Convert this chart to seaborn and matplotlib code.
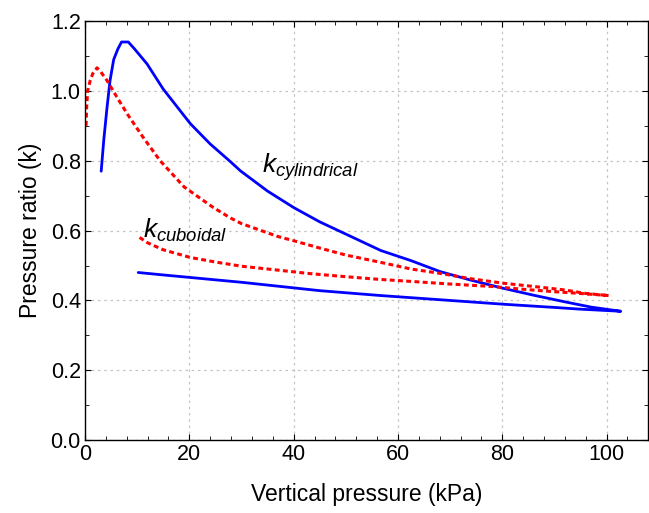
import matplotlib
matplotlib.use("Agg")
import matplotlib.pyplot as plt
import seaborn as sns
from matplotlib.ticker import MultipleLocator

# cylindrical silo, loading branch then unloading branch
cyl_load_x = [3.1, 3.6, 4.2, 4.8, 5.5, 6.3, 7.0, 8.3, 9.5, 11.9, 15.0, 20.2, 24.0, 27.9, 29.8,
              35.0, 40.0, 45.0, 50.0, 56.7, 62.5, 68.0, 74.0, 80.4, 86.0, 92.0, 97.0, 102.7]
cyl_load_y = [0.77, 0.86, 0.95, 1.03, 1.09, 1.12, 1.14, 1.14, 1.12, 1.077, 1.005, 0.906, 0.848, 0.797, 0.771,
              0.713, 0.666, 0.625, 0.59, 0.543, 0.514, 0.483, 0.458, 0.434, 0.415, 0.396, 0.381, 0.369]
cyl_unload_x = [102.7, 95.0, 90.0, 80.4, 70.0, 56.7, 45.0, 37.5, 30.0, 20.0, 15.0, 10.2]
cyl_unload_y = [0.369, 0.375, 0.380, 0.389, 0.400, 0.414, 0.428, 0.440, 0.452, 0.466, 0.473, 0.480]

# cuboidal silo
cub_load_x = [0.2, 0.3, 0.5, 1.0, 1.5, 2.3, 3.0, 4.2, 6.0, 8.1, 11.0, 14.4, 19.0, 24.6, 27.9,
              30.0, 37.0, 40.0, 45.0, 50.0, 56.7, 62.5, 68.3, 74.0, 80.4, 86.0, 92.0, 96.0, 100.4]
cub_load_y = [0.90, 0.95, 1.00, 1.03, 1.05, 1.066, 1.055, 1.03, 0.985, 0.934, 0.87, 0.80, 0.725, 0.666, 0.636,
              0.62, 0.583, 0.571, 0.55, 0.53, 0.509, 0.49, 0.477, 0.462, 0.449, 0.44, 0.43, 0.42, 0.414]
cub_unload_x = [100.4, 95.0, 90.0, 84.0, 78.0, 70.0, 62.0, 56.7, 50.0, 43.0, 37.5, 30.0, 25.0, 20.2, 15.0, 12.0, 10.2]
cub_unload_y = [0.414, 0.42, 0.425, 0.432, 0.44, 0.447, 0.455, 0.46, 0.468, 0.477, 0.486, 0.498, 0.51, 0.523, 0.545, 0.565, 0.583]

sns.set_style("ticks")
plt.rcParams['font.family'] = ['Liberation Sans', 'DejaVu Sans']
plt.rcParams['mathtext.fontset'] = 'custom'
plt.rcParams['mathtext.it'] = 'Liberation Sans:italic'
plt.rcParams['mathtext.rm'] = 'Liberation Sans'
plt.rcParams['text.color'] = 'black'

fig = plt.figure(figsize=(6.49, 5.13), dpi=100)
ax = fig.add_axes([0.131, 0.142, 0.868, 0.817])

sns.lineplot(x=cyl_load_x + cyl_unload_x, y=cyl_load_y + cyl_unload_y, sort=False, estimator=None,
             color='blue', linewidth=2.0, ax=ax)
sns.lineplot(x=cub_load_x + cub_unload_x, y=cub_load_y + cub_unload_y, sort=False, estimator=None,
             color='red', linewidth=2.2, linestyle=(0, (1.6, 1.1)), ax=ax)

ax.text(34, 0.765, r'$k_{cylindrical}$', fontsize=19, color='black')
ax.text(11.2, 0.578, r'$k_{cuboidal}$', fontsize=19, color='black')

ax.set_xlim(0, 108)
ax.set_ylim(0, 1.2)
ax.xaxis.set_major_locator(MultipleLocator(20))
ax.xaxis.set_minor_locator(MultipleLocator(4))
ax.yaxis.set_major_locator(MultipleLocator(0.2))
ax.yaxis.set_minor_locator(MultipleLocator(0.1))
ax.yaxis.set_major_formatter(plt.FormatStrFormatter('%.1f'))
ax.tick_params(which='both', direction='in', top=True, right=True, labelsize=15.5,
               colors='black', pad=3)
ax.tick_params(which='major', length=4)
ax.tick_params(which='minor', length=3)
ax.grid(True, which='major', linestyle=(0, (2, 3)), color='#c4c4c4', linewidth=0.9)
for s in ax.spines.values():
    s.set_color('black')
    s.set_linewidth(1.0)

ax.set_xlabel('Vertical pressure (kPa)', fontsize=16.5, labelpad=13, color='black')
ax.set_ylabel('Pressure ratio (k)', fontsize=16.5, labelpad=6, color='black')

fig.savefig('out.png', dpi=100)
